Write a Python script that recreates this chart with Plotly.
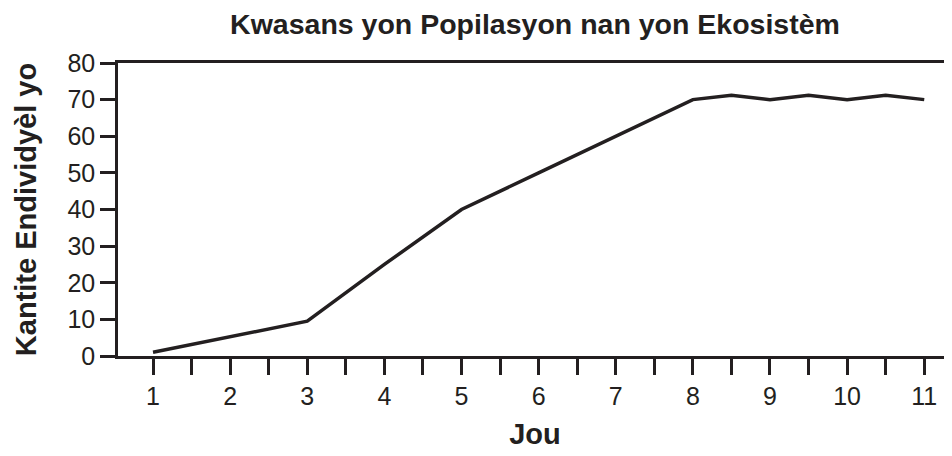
import plotly.graph_objects as go

days = [1, 2, 3, 4, 5, 6, 7, 8, 8.5, 9, 9.5, 10, 10.5, 11]
population = [1, 5.2, 9.5, 25, 40, 50, 60, 70, 71.2, 70, 71.2, 70, 71.2, 70]
x_tick_vals = [1, 2, 3, 4, 5, 6, 7, 8, 9, 10, 11]
x_tick_text = ["1", "2", "3", "4", "5", "6", "7", "8", "9", "10", "11"]
y_tick_vals = [0, 10, 20, 30, 40, 50, 60, 70, 80]

title_text = "Kwasans yon Popilasyon nan yon Ekosistèm"
x_title = "Jou"
y_title = "Kantite Endividyèl yo"

ink = "#231f20"
font_family = "Liberation Sans, Arial, Helvetica, sans-serif"

fig = go.Figure()
fig.add_trace(go.Scatter(
    x=days, y=population, mode="lines",
    line=dict(color=ink, width=3.5),
    hoverinfo="skip", showlegend=False,
))

# page body has an 8px margin, so the figure is sized/offset to fit the 952x456 window
fig.update_layout(
    width=944, height=448,
    margin=dict(l=110, r=0, t=55, b=100, autoexpand=False),
    paper_bgcolor="white", plot_bgcolor="white",
    font=dict(family=font_family, color=ink, size=25),
    title=dict(
        text="<b>" + title_text + "</b>",
        x=0.5, xref="paper", xanchor="center",
        y=0.964, yref="container", yanchor="middle",
        font=dict(size=28.5, color=ink),
    ),
)

fig.update_xaxes(
    range=[0.546, 11.36],
    tickmode="array", tickvals=x_tick_vals, ticktext=x_tick_text,
    ticks="outside", ticklen=16, tickwidth=2.5, tickcolor=ink,
    minor=dict(dtick=0.5, tick0=0.5, ticks="outside", ticklen=16, tickwidth=2.5, tickcolor=ink, showgrid=False),
    showline=True, linewidth=2.5, linecolor=ink, mirror=True,
    showgrid=False, zeroline=False, automargin=False,
    tickfont=dict(size=25, color=ink),
    title=dict(text="<b>" + x_title + "</b>", font=dict(size=29, color=ink), standoff=15),
)
fig.update_yaxes(
    range=[0, 80],
    tickmode="array", tickvals=y_tick_vals,
    ticks="outside", ticklen=15, tickwidth=2.5, tickcolor=ink,
    showline=True, linewidth=2.5, linecolor=ink,
    showgrid=False, zeroline=False, automargin=False,
    tickfont=dict(size=25, color=ink),
    title=dict(text="<b>" + y_title + "</b>", font=dict(size=29, color=ink), standoff=23),
)

fig.write_html("out.html")
